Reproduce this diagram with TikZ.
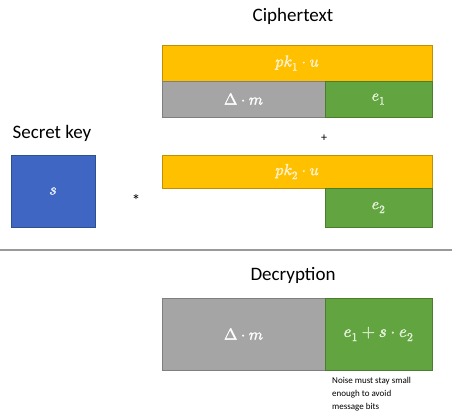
\documentclass[tikz,border=0pt]{standalone}
\usepackage{fontspec}
\usepackage{unicode-math}
\setmainfont{Carlito}
\setmathfont{Latin Modern Math}[FakeBold=2]
\definecolor{korange}{HTML}{FFC000}
\definecolor{korangeb}{HTML}{C09000}
\definecolor{kgray}{HTML}{A5A5A5}
\definecolor{kgrayb}{HTML}{7F7F7F}
\definecolor{kgreen}{HTML}{62A43F}
\definecolor{kgreenb}{HTML}{4A7E2E}
\definecolor{kblue}{HTML}{3E66C2}
\definecolor{kblueb}{HTML}{2F4F8F}
\definecolor{tyellow}{HTML}{FFF2CC}
\definecolor{tgreen}{HTML}{E2F0D9}
\definecolor{tblue}{HTML}{E4ECF8}
\begin{document}
\begin{tikzpicture}[x=1pt,y=-1pt,
  box/.style={draw, line width=0.6pt},
  orangebox/.style={box, fill=korange, draw=korangeb},
  graybox/.style={box, fill=kgray, draw=kgrayb},
  greenbox/.style={box, fill=kgreen, draw=kgreenb},
  bluebox/.style={box, fill=kblue, draw=kblueb},
  title/.style={font=\fontsize{19}{22}\selectfont, text=black, inner sep=0pt},
  mlabel/.style={font=\fontsize{16}{18}\selectfont, inner sep=0pt},
  op/.style={font=\fontsize{12}{14}\selectfont, inner sep=0pt}]
\useasboundingbox (0,0) rectangle (456,417);
% Ciphertext
\node[title] (ct) at (293,16) {Ciphertext};
\draw[orangebox] (162,45) rectangle (432,81);
\node[mlabel, text=tyellow] (pk1) at (297,63) {$pk_1\cdot u$};
\draw[graybox] (162,81) rectangle (325,117);
\node[mlabel, text=white] (dm1) at (243.5,99) {$\Delta\cdot m$};
\draw[greenbox] (325,81) rectangle (432,117);
\node[mlabel, text=tgreen] (e1) at (378.5,99) {$e_1$};
\node[op] (plus) at (324,138) {+};
\draw[orangebox] (162,155) rectangle (432,188);
\node[mlabel, text=tyellow] (pk2) at (297,171.5) {$pk_2\cdot u$};
\draw[greenbox] (325,188) rectangle (432,227);
\node[mlabel, text=tgreen] (e2) at (378.5,207.5) {$e_2$};
% Secret key
\node[title] (sk) at (52,133) {Secret key};
\draw[bluebox] (11,155) rectangle (95,227);
\node[mlabel, text=tblue] (s) at (53,191) {$s$};
\node[op, font=\fontsize{17}{18}\selectfont] (star) at (136,200) {*};
% separator
\draw[line width=1.2pt, draw=gray!80] (0,250) -- (452,250);
% Decryption
\node[title] (dec) at (293,275) {Decryption};
\draw[graybox] (162,298) rectangle (325,370);
\node[mlabel, text=white] (dm2) at (243.5,334) {$\Delta\cdot m$};
\draw[greenbox] (325,298) rectangle (432,370);
\node[mlabel, text=tgreen, font=\fontsize{17}{19}\selectfont] (noise) at (378.5,334) {$e_1+s\cdot e_2$};
\node[anchor=north west, align=left, font=\fontsize{9}{13}\selectfont, inner sep=0pt] (note) at (332,377) {Noise must stay small\\enough to avoid\\message bits};
\end{tikzpicture}
\end{document}
